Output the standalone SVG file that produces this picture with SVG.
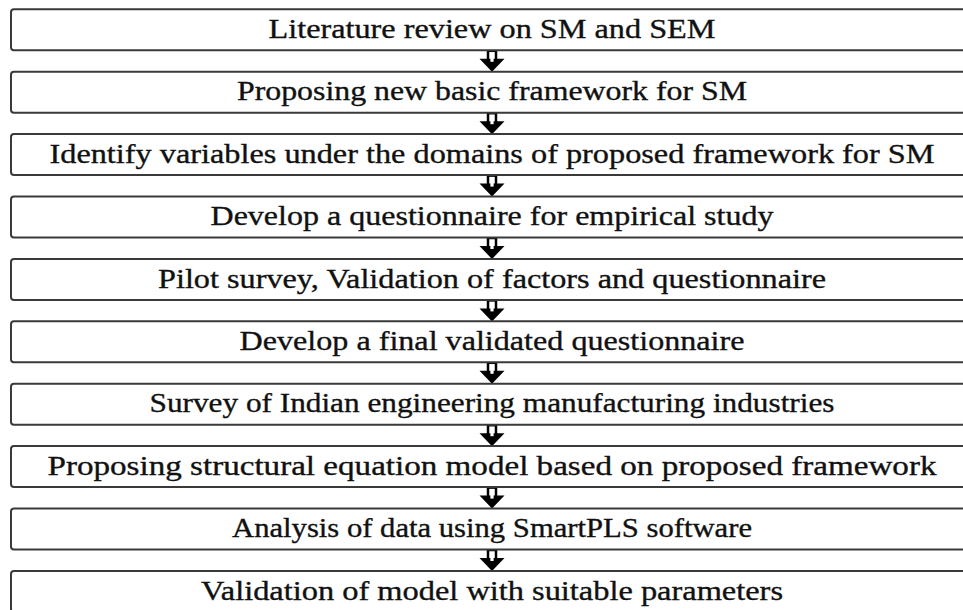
<svg xmlns="http://www.w3.org/2000/svg" width="963" height="610" viewBox="0 0 963 610">
  <style>
    .box { fill: #ffffff; stroke: #3a3a3a; stroke-width: 2; }
    .lbl { font-family: 'Liberation Serif', 'Times New Roman', serif; font-size: 28px; fill: #111111; stroke: #111111; stroke-width: 0.35; text-anchor: middle; }
    .shaft { fill: #ffffff; stroke: #000000; stroke-width: 2.5; }
    .head { fill: #000000; }
  </style>
  <defs>
    <!-- hollow-shaft block arrow, origin at the top of the shaft -->
    <g id="down">
      <rect class="shaft" x="-4" y="0.5" width="8" height="10"/>
      <polygon class="head" points="-12.5,8.5 12.5,8.5 0,21.5"/>
      <rect x="-1.6" y="7.5" width="3.2" height="4" fill="#ffffff"/>
    </g>
  </defs>
  <rect width="963" height="610" fill="#ffffff"/>

  <g id="connectors">
    <use href="#down" x="492" y="50.3"/>
    <use href="#down" x="492" y="112.7"/>
    <use href="#down" x="492" y="175.1"/>
    <use href="#down" x="492" y="237.5"/>
    <use href="#down" x="492" y="299.9"/>
    <use href="#down" x="492" y="362.3"/>
    <use href="#down" x="492" y="424.7"/>
    <use href="#down" x="492" y="487.1"/>
    <use href="#down" x="492" y="549.5"/>
  </g>

  <g id="step1">
    <rect class="box" x="11" y="9.3" width="970" height="41" rx="3"/>
    <text class="lbl" x="492" y="38" textLength="447" lengthAdjust="spacingAndGlyphs">Literature review on SM and SEM</text>
  </g>
  <g id="step2">
    <rect class="box" x="11" y="71.7" width="970" height="41" rx="3"/>
    <text class="lbl" x="492" y="100.4" textLength="510" lengthAdjust="spacingAndGlyphs">Proposing new basic framework for SM</text>
  </g>
  <g id="step3">
    <rect class="box" x="11" y="134.1" width="970" height="41" rx="3"/>
    <text class="lbl" x="492" y="162.8" textLength="885" lengthAdjust="spacingAndGlyphs">Identify variables under the domains of proposed framework for SM</text>
  </g>
  <g id="step4">
    <rect class="box" x="11" y="196.5" width="970" height="41" rx="3"/>
    <text class="lbl" x="492" y="225.2" textLength="563" lengthAdjust="spacingAndGlyphs">Develop a questionnaire for empirical  study</text>
  </g>
  <g id="step5">
    <rect class="box" x="11" y="258.9" width="970" height="41" rx="3"/>
    <text class="lbl" x="492" y="287.6" textLength="668" lengthAdjust="spacingAndGlyphs">Pilot survey,  Validation of factors and questionnaire</text>
  </g>
  <g id="step6">
    <rect class="box" x="11" y="321.3" width="970" height="41" rx="3"/>
    <text class="lbl" x="492" y="350" textLength="505" lengthAdjust="spacingAndGlyphs">Develop a final validated questionnaire</text>
  </g>
  <g id="step7">
    <rect class="box" x="11" y="383.7" width="970" height="41" rx="3"/>
    <text class="lbl" x="492" y="412.4" textLength="685" lengthAdjust="spacingAndGlyphs">Survey of Indian engineering manufacturing industries</text>
  </g>
  <g id="step8">
    <rect class="box" x="11" y="446.1" width="970" height="41" rx="3"/>
    <text class="lbl" x="492" y="474.8" textLength="889" lengthAdjust="spacingAndGlyphs">Proposing structural equation model based on proposed framework</text>
  </g>
  <g id="step9">
    <rect class="box" x="11" y="508.5" width="970" height="41" rx="3"/>
    <text class="lbl" x="492" y="537.2" textLength="520" lengthAdjust="spacingAndGlyphs">Analysis of data using SmartPLS software</text>
  </g>
  <g id="step10">
    <rect class="box" x="11" y="570.9" width="970" height="41" rx="3"/>
    <text class="lbl" x="492" y="599.6" textLength="582" lengthAdjust="spacingAndGlyphs">Validation of model with suitable parameters</text>
  </g>
</svg>
